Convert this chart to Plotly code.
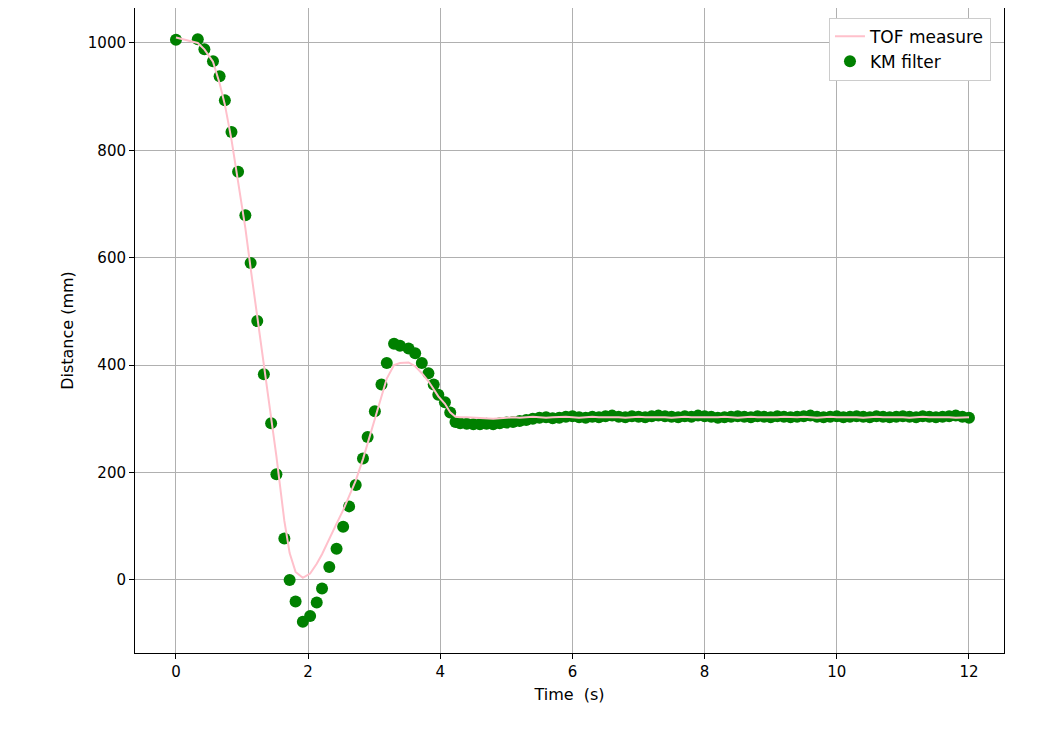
import plotly.graph_objects as go

# sample times (s)
t_head = [0, 0.33, 0.43, 0.56, 0.66, 0.74, 0.84, 0.94, 1.05, 1.13, 1.23, 1.33, 1.44, 1.52,
          1.64, 1.72, 1.81, 1.92, 2.03, 2.13, 2.21, 2.32, 2.43, 2.53, 2.62, 2.72, 2.83, 2.90,
          3.01, 3.11, 3.19, 3.30, 3.39, 3.52, 3.62, 3.72, 3.82, 3.90, 3.97, 4.07, 4.15, 4.23]
t_tail = [4.3, 4.4, 4.5, 4.6, 4.7, 4.8, 4.9, 5.0, 5.1, 5.2,
          5.3, 5.4, 5.5, 5.6, 5.7, 5.8, 5.9, 6.0, 6.1, 6.2,
          6.3, 6.4, 6.5, 6.6, 6.7, 6.8, 6.9, 7.0, 7.1, 7.2,
          7.3, 7.4, 7.5, 7.6, 7.7, 7.8, 7.9, 8.0, 8.1, 8.2,
          8.3, 8.4, 8.5, 8.6, 8.7, 8.8, 8.9, 9.0, 9.1, 9.2,
          9.3, 9.4, 9.5, 9.6, 9.7, 9.8, 9.9, 10.0, 10.1, 10.2,
          10.3, 10.4, 10.5, 10.6, 10.7, 10.8, 10.9, 11.0, 11.1, 11.2,
          11.3, 11.4, 11.5, 11.6, 11.7, 11.8, 11.9, 12.0]

# TOF raw measurement (mm)
tof_head = [1010, 1000, 988, 965, 925, 885, 820, 745, 655, 580, 490, 405, 300, 230,
            110, 50, 15, 4, 12, 30, 48, 75, 105, 130, 155, 185, 225, 255,
            300, 345, 375, 400, 404, 405, 398, 385, 370, 355, 342, 328, 312, 304]
tof_tail = [303, 303, 302, 302, 301, 300, 301, 302, 303, 302,
            303, 304, 303, 302, 303, 304, 304, 303, 302, 303,
            304, 303, 303, 304, 303, 302, 303, 304, 303, 303,
            304, 303, 302, 303, 304, 303, 303, 302, 302, 303,
            304, 303, 302, 303, 304, 303, 303, 302, 303, 304,
            303, 303, 304, 303, 302, 303, 304, 303, 303, 304,
            303, 302, 303, 304, 303, 303, 304, 303, 302, 303,
            304, 303, 303, 304, 303, 302, 303, 303]

# KM filter output (mm)
km_head = [1006, 1007, 988, 966, 938, 893, 834, 760, 679, 590, 482, 383, 292, 197,
           77, 0, -40, -78, -67, -42, -16, 24, 58, 99, 137, 177, 226, 266,
           314, 364, 404, 440, 436, 431, 422, 404, 385, 364, 345, 331, 312, 294]
km_tail = [292, 291, 290, 290, 291, 290, 292, 293, 294, 296,
           298, 300, 302, 303, 301, 302, 304, 305, 303, 302,
           304, 303, 305, 306, 304, 303, 305, 304, 303, 305,
           306, 305, 304, 303, 305, 304, 306, 305, 304, 302,
           303, 304, 305, 304, 303, 305, 304, 303, 305, 304,
           303, 304, 305, 306, 304, 303, 304, 305, 303, 304,
           305, 304, 303, 305, 304, 303, 304, 305, 304, 303,
           305, 304, 303, 304, 305, 306, 304, 302]

t = t_head + t_tail
tof = tof_head + tof_tail
km = km_head + km_tail

fig = go.Figure()
# markers first so the pink line sits on top of them
fig.add_trace(go.Scatter(x=t, y=km, mode="markers", name="KM filter", legendrank=2,
                         marker=dict(color="green", size=12)))
fig.add_trace(go.Scatter(x=t, y=tof, mode="lines", name="TOF measure", legendrank=1,
                         line=dict(color="pink", width=2)))

axis = dict(showline=True, linecolor="black", linewidth=1, mirror=True,
            showgrid=True, gridcolor="#b0b0b0", gridwidth=1, zeroline=False,
            ticks="outside", ticklen=5, tickcolor="black",
            tickfont=dict(size=15, color="black"))
fig.update_xaxes(range=[-0.62, 12.53], tickvals=[0, 2, 4, 6, 8, 10, 12],
                 title=dict(text="Time  (s)", font=dict(size=16, color="black"), standoff=8), **axis)
fig.update_yaxes(range=[-136, 1065], tickvals=[0, 200, 400, 600, 800, 1000],
                 title=dict(text="Distance (mm)", font=dict(size=16, color="black"), standoff=10), **axis)

fig.update_layout(
    width=1043, height=730,
    margin=dict(l=127, r=47, t=0, b=85),
    plot_bgcolor="white", paper_bgcolor="white",
    font=dict(family="DejaVu Sans"),
    legend=dict(x=0.985, y=0.985, xanchor="right", yanchor="top",
                bgcolor="white", bordercolor="#cccccc", borderwidth=1,
                font=dict(size=17, color="black")),
)

fig.write_html("out.html")
